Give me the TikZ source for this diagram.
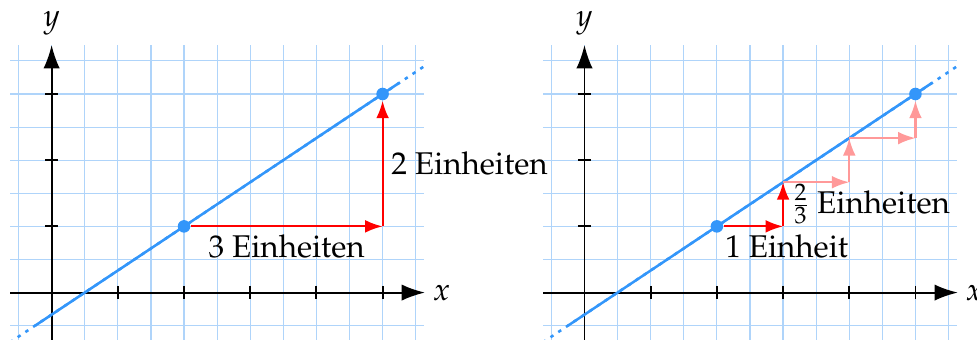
\documentclass[tikz,border=0pt]{standalone}
\usepackage[T1]{fontenc}
\usepackage{mathpazo}
\usetikzlibrary{arrows.meta,positioning}
\definecolor{gridblue}{RGB}{175,212,250}
\definecolor{lineblue}{RGB}{51,150,250}
\tikzset{
  gridline/.style={gridblue,line width=0.5pt},
  axis/.style={-{Latex[length=10pt,width=7pt]},line width=0.8pt},
  tick/.style={line width=0.8pt},
  graph/.style={lineblue,line width=1.1pt},
  graphext/.style={lineblue,line width=1.1pt,dash pattern=on 1.5pt off 2.5pt},
  dot/.style={circle,fill=lineblue,inner sep=0pt,minimum size=5.4pt},
  stepper/.style={-{Latex[length=7.5pt,width=5.5pt]},red,line width=0.9pt},
  faintstepper/.style={-{Latex[length=7.5pt,width=5.5pt]},red!40,line width=0.9pt},
  steplabel/.style={text=black}
}
\begin{document}
\begin{tikzpicture}[font=\fontsize{13.5}{16}\selectfont]
\useasboundingbox (-0.78,-0.714) rectangle (13.98,4.42);
% left: one step of 3 units
\draw[gridline] (-0.625,-0.72) grid[step=0.5] (5.625,3.74);
\draw[axis] (-0.625,0) -- (5.64,0) coordinate (xa);
\draw[axis] (0,-0.72) -- (0,3.74) coordinate (ya);
\node (xla) at (5.89,0) {$x$};
\node (yla) at (0,4.07) {$y$};
\foreach \i in {1,...,5} \draw[tick] (\i,0.1) -- (\i,-0.1);
\foreach \i in {1,2,3} \draw[tick] (-0.1,\i) -- (0.1,\i);
\draw[graphext] (-0.63,-0.753) -- (5.62,3.413);
\draw[graph] (-0.25,-0.5) -- (5.25,3.167);
\node[dot] (p1) at (2,1) {};
\node[dot] (p2) at (5,3) {};
\coordinate (c1) at (5,1);
\draw[stepper] (p1) -- (c1) node[midway,below,steplabel] (lh) {3 Einheiten};
\draw[stepper] (c1) -- (p2) node[midway,right,steplabel] (lv) {2 Einheiten};
% right: steps of 1 unit
\begin{scope}[xshift=8.05cm]
\draw[gridline] (-0.625,-0.72) grid[step=0.5] (5.625,3.74);
\draw[axis] (-0.625,0) -- (5.64,0) coordinate (xb);
\draw[axis] (0,-0.72) -- (0,3.74) coordinate (yb);
\node (xlb) at (5.89,0) {$x$};
\node (ylb) at (0,4.07) {$y$};
\foreach \i in {1,...,5} \draw[tick] (\i,0.1) -- (\i,-0.1);
\foreach \i in {1,2,3} \draw[tick] (-0.1,\i) -- (0.1,\i);
\draw[graphext] (-0.63,-0.753) -- (5.62,3.413);
\draw[graph] (-0.25,-0.5) -- (5.25,3.167);
\node[dot] (q1) at (2,1) {};
\node[dot] (q2) at (5,3) {};
\coordinate (k1) at (3,1);
\coordinate (k2) at (3,5/3);
\coordinate (k3) at (4,5/3);
\coordinate (k4) at (4,7/3);
\coordinate (k5) at (5,7/3);
\draw[faintstepper] (k2) -- (k3);
\draw[faintstepper] (k3) -- (k4);
\draw[faintstepper] (k4) -- (k5);
\draw[faintstepper] (k5) -- (q2);
\draw[stepper] (q1) -- (k1);
\draw[stepper] (k1) -- (k2) node[midway,right,steplabel] (lf) {$\frac{2}{3}$ Einheiten};
\node[anchor=north west,inner sep=0pt] (lu) at (2.12,0.88) {1 Einheit};
\end{scope}
\end{tikzpicture}
\end{document}
